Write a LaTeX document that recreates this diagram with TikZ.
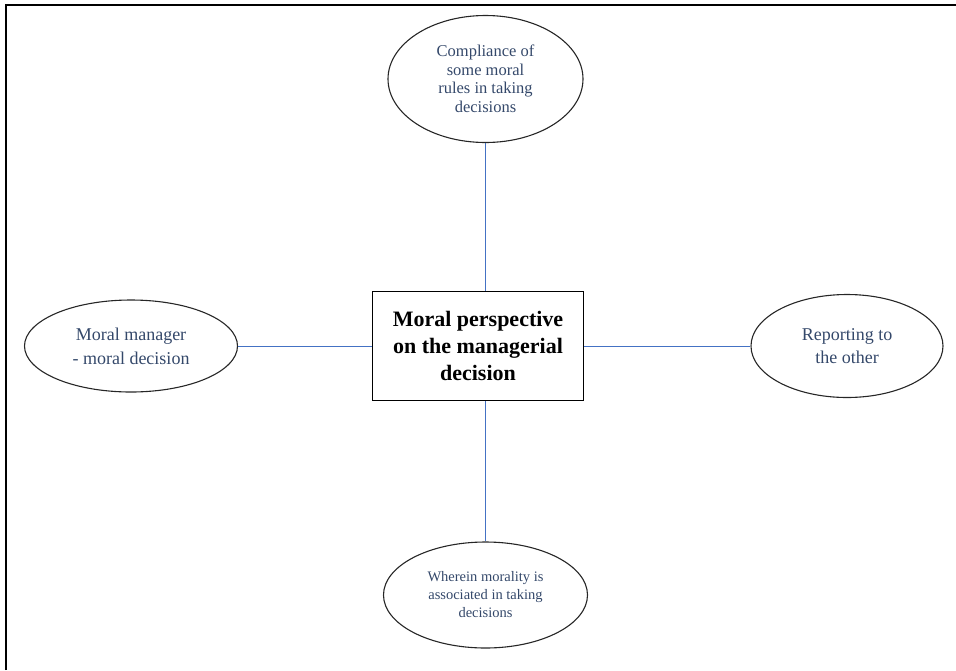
\documentclass[tikz,border=0pt]{standalone}
\usepackage{fontspec}
\setmainfont{Liberation Serif}
\usetikzlibrary{shapes.geometric}
\definecolor{textblue}{HTML}{34486A}
\definecolor{linkblue}{HTML}{4472C4}

\begin{document}
\begin{tikzpicture}[x=1pt,y=-1pt,
  idea/.style={ellipse,draw=black!85,line width=1.1pt,inner sep=0pt,align=center,text=textblue},
  link/.style={draw=linkblue,line width=0.9pt}]
  \useasboundingbox (0,0) rectangle (956,670);
  % frame: left and top edges only
  \draw[line width=2pt] (6,670) -- (6,5) -- (956,5);
  % centre box
  \node[draw,line width=1.1pt,minimum width=211pt,minimum height=109pt,align=center,
        font=\fontsize{22}{27}\selectfont\bfseries] (core) at (478,346)
        {Moral perspective\\on the managerial\\decision};
  % the four ellipses
  \node[idea,minimum width=195pt,minimum height=127pt,font=\fontsize{16.5}{18.5}\selectfont] (rules) at (485.5,79)
        {Compliance of\\some moral\\rules in taking\\decisions};
  \node[idea,minimum width=213pt,minimum height=92pt,font=\fontsize{18}{24}\selectfont] (manager) at (131,346)
        {Moral manager\\- moral decision};
  \node[idea,minimum width=192pt,minimum height=103pt,font=\fontsize{18}{23}\selectfont] (report) at (847,346)
        {Reporting to\\the other};
  \node[idea,minimum width=204pt,minimum height=106pt,font=\fontsize{14.5}{18}\selectfont] (morality) at (485.5,595)
        {Wherein morality is\\associated in taking\\decisions};
  % connectors
  \draw[link] (rules.south) -- (rules.south |- core.north);
  \draw[link] (core.south -| morality.north) -- (morality.north);
  \draw[link] (manager.east) -- (core.west);
  \draw[link] (core.east) -- (report.west);
\end{tikzpicture}
\end{document}
